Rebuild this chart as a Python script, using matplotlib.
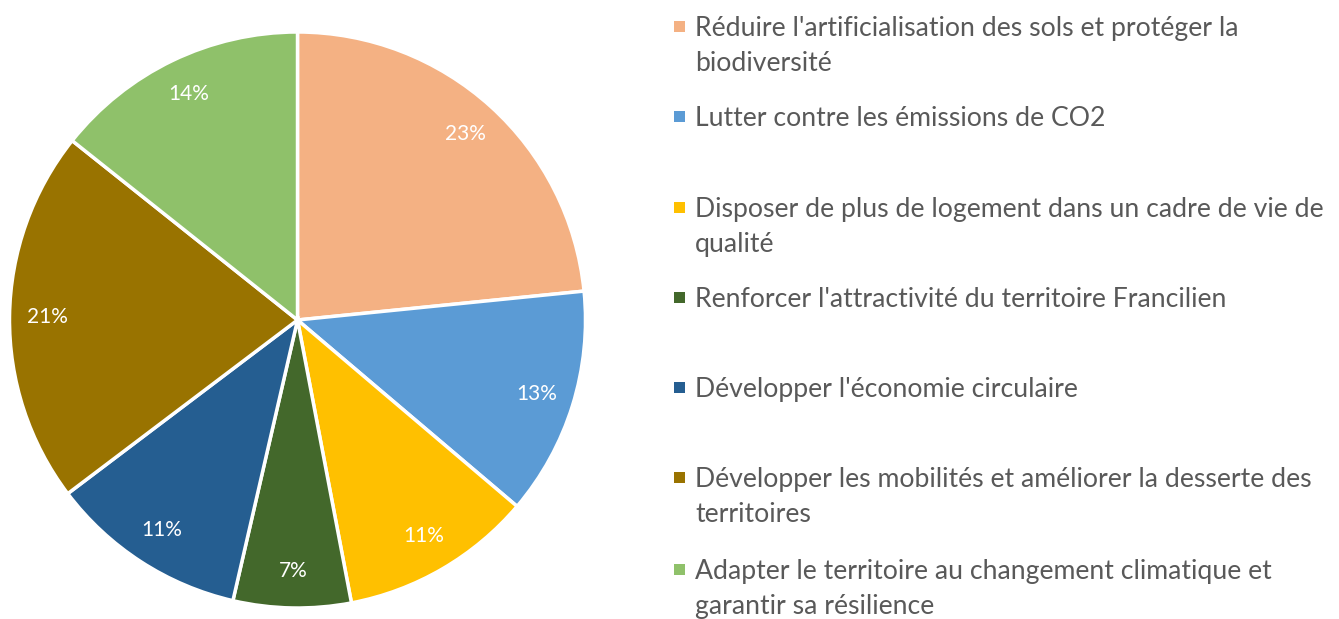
import matplotlib
matplotlib.use("Agg")
import matplotlib.pyplot as plt

categories = [
    "Réduire l'artificialisation des sols et protéger la\nbiodiversité",
    "Lutter contre les émissions de CO2",
    "Disposer de plus de logement dans un cadre de vie de\nqualité",
    "Renforcer l'attractivité du territoire Francilien",
    "Développer l'économie circulaire",
    "Développer les mobilités et améliorer la desserte des\nterritoires",
    "Adapter le territoire au changement climatique et\ngarantir sa résilience",
]
values = [23.4, 12.8, 10.8, 6.6, 11.1, 21.0, 14.3]
colors = ["#F4B183", "#5B9BD5", "#FFC000", "#43682B", "#255E91", "#997300", "#8FC16A"]

plt.rcParams['font.family'] = ['Lato', 'DejaVu Sans']

W, H = 1339, 619
fig = plt.figure(figsize=(W / 100, H / 100), dpi=100)

cx, cy, r = 297.5, 320, 288
ax = fig.add_axes([(cx - r) / W, 1 - (cy + r) / H, 2 * r / W, 2 * r / H])
wedges, texts, autotexts = ax.pie(
    values, colors=colors, startangle=90, counterclock=False,
    autopct=lambda p: f"{p:.0f}%", pctdistance=0.87,
    wedgeprops=dict(edgecolor="white", linewidth=2.5),
    textprops=dict(color="white", fontsize=15),
)
ax.set_xlim(-1, 1)
ax.set_ylim(-1, 1)
ax.set_aspect("equal")

# legend
tops = [27, 117, 208, 298, 388, 478, 570]
for cat, col, t in zip(categories, colors, tops):
    fig.patches.append(plt.Rectangle((674 / W, 1 - (t + 5) / H), 11 / W, 11 / H,
                                     transform=fig.transFigure, facecolor=col, edgecolor="none"))
    for i, line in enumerate(cat.split("\n")):
        fig.text(695 / W, 1 - (t + 9 + 35 * i) / H, line, fontsize=19.2, color="#595959",
                 va="baseline", ha="left")

fig.savefig("out.png", dpi=100, facecolor="white")
